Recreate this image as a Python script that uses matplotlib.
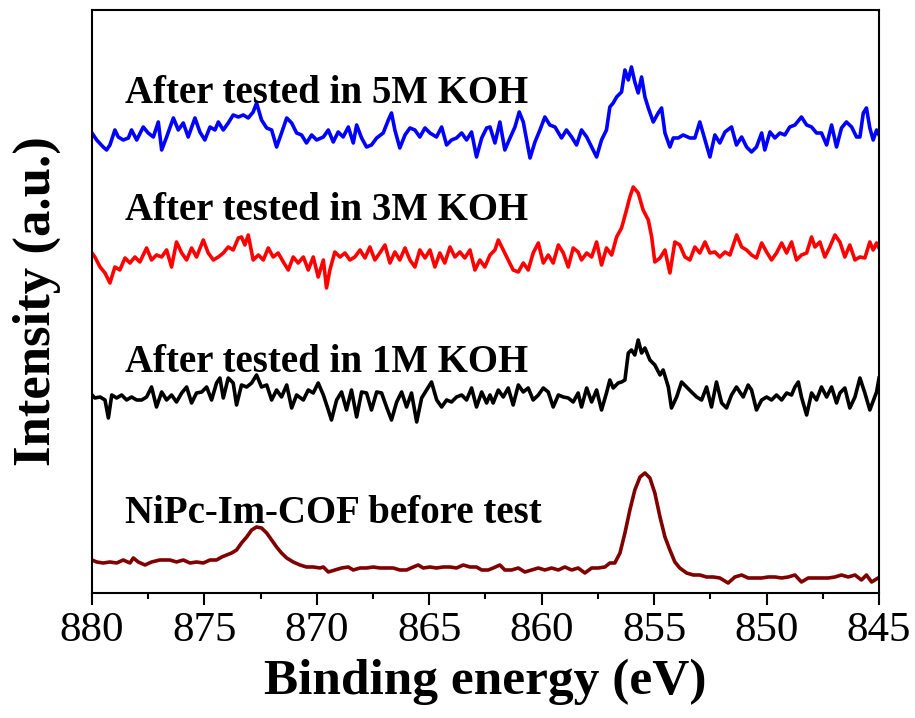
import matplotlib
matplotlib.use("Agg")
import matplotlib.pyplot as plt
from matplotlib.ticker import MultipleLocator

# Ni 2p spectra, intensities in arbitrary units (already vertically offset)
e_5m = [880.0, 879.79, 879.5, 879.35, 879.2, 878.98, 878.83, 878.61, 878.38, 878.24, 878.01, 877.72, 877.5, 877.27,
        877.05, 876.9, 876.68, 876.38, 876.16, 875.94, 875.72, 875.42, 875.2, 874.98, 874.75, 874.53, 874.38, 874.16,
        873.94, 873.72, 873.49, 873.27, 873.05, 872.83, 872.68, 872.46, 872.23, 872.01, 871.79, 871.57, 871.34, 871.12,
        870.9, 870.68, 870.46, 870.23, 870.01, 869.71, 869.49, 869.27, 869.05, 868.83, 868.6, 868.38, 868.23, 868.01,
        867.79, 867.57, 867.34, 867.05, 866.82, 866.68, 866.53, 866.31, 866.08, 865.86, 865.64, 865.42, 865.19, 864.97,
        864.68, 864.45, 864.23, 864.01, 863.79, 863.56, 863.34, 863.12, 862.9, 862.67, 862.45,
        862.3, 862.08, 861.86, 861.64, 861.41, 861.19, 861.0, 860.82, 860.52, 860.3, 860.08, 859.86, 859.64, 859.41,
        859.12, 858.9, 858.67, 858.45, 858.23, 858.0, 857.78, 857.56, 857.34, 857.12, 856.97, 856.82, 856.67, 856.45,
        856.3, 856.15, 856.01, 855.86, 855.71, 855.56, 855.41, 855.26, 855.04, 854.82, 854.67, 854.52, 854.3, 854.15,
        853.93, 853.71, 853.41, 853.19, 852.97, 852.74, 852.52, 852.3, 852.08, 851.85, 851.56, 851.34, 851.11, 850.89,
        850.67, 850.45, 850.22, 850.08, 849.85, 849.63, 849.41, 849.19, 848.97, 848.74, 848.45, 848.22, 848.0, 847.78,
        847.56, 847.33, 847.11, 846.89, 846.67, 846.45, 846.22, 846.0, 845.85, 845.7, 845.56, 845.41, 845.26, 845.11, 845.0]
i_5m = [460, 453, 446, 443, 448, 463, 456, 453, 455, 463, 453, 466, 460, 456,
        471, 443, 456, 475, 463, 470, 456, 475, 461, 453, 466, 463, 471, 463,
        470, 478, 476, 478, 475, 481, 490, 473, 465, 463, 446, 460, 475, 470,
        460, 458, 450, 458, 453, 456, 463, 451, 461, 456, 466, 450, 468, 455,
        446, 448, 455, 460, 473, 480, 463, 445, 458, 465, 463, 456, 465, 460,
        456, 466, 448, 453, 455, 460, 453, 461, 436, 455, 465,
        466, 450, 471, 443, 455, 466, 481, 471, 435, 451, 463, 476, 468, 466,
        455, 463, 456, 448, 463, 456, 446, 436, 453, 463, 486, 490, 496, 501,
        523, 513, 526, 511, 500, 516, 496, 485, 471, 480, 485, 460, 446, 455,
        455, 458, 455, 455, 471, 453, 436, 458, 450, 461, 466, 448, 456, 446,
        441, 446, 460, 443, 461, 455, 460, 458, 466, 468, 476, 468, 466, 460,
        460, 448, 468, 446, 465, 471, 466, 456, 456, 480, 485, 465, 453, 463, 458]

e_3m = [880.0, 879.87, 879.64, 879.42, 879.2, 878.98, 878.76, 878.53, 878.31, 878.09, 877.87, 877.57, 877.35, 877.13,
        876.9, 876.68, 876.46, 876.24, 876.01, 875.79, 875.57, 875.35, 875.05, 874.83, 874.6, 874.38, 874.16, 873.94,
        873.72, 873.49, 873.35, 873.2, 873.05, 872.83, 872.6, 872.38, 872.16, 871.94, 871.72, 871.49, 871.27, 871.05,
        870.83, 870.6, 870.38, 870.16, 869.94, 869.71, 869.57, 869.42, 869.2, 868.97, 868.75, 868.53, 868.31, 868.08,
        867.86, 867.64, 867.42, 867.2, 866.97, 866.75, 866.53, 866.31, 866.08, 865.86, 865.64, 865.42, 865.19, 864.97,
        864.75, 864.53, 864.31, 864.08, 863.86, 863.64, 863.42, 863.19, 862.97, 862.75,
        862.53, 862.3, 862.08, 861.93, 861.71, 861.49, 861.27, 861.04, 860.82, 860.6, 860.38, 860.15, 859.93, 859.71,
        859.49, 859.26, 859.04, 858.82, 858.6, 858.38, 858.23, 858.0, 857.78, 857.56, 857.34, 857.12, 856.89, 856.67,
        856.45, 856.23, 856.08, 855.93, 855.71, 855.49, 855.26, 855.11, 854.97, 854.74, 854.52, 854.3, 854.08, 853.86,
        853.63, 853.41, 853.19, 852.97, 852.74, 852.52, 852.3, 852.08, 851.85, 851.63, 851.33, 851.11, 850.89, 850.67,
        850.45, 850.22, 850.0, 849.78, 849.56, 849.33, 849.11, 848.89, 848.67, 848.45, 848.22, 848.0, 847.85, 847.63,
        847.41, 847.19, 846.96, 846.74, 846.52, 846.3, 846.07, 845.85, 845.63, 845.41, 845.26, 845.11, 845.0]
i_3m = [340, 336, 326, 320, 310, 326, 323, 335, 330, 336, 331, 345, 333, 338,
        336, 343, 326, 351, 340, 333, 345, 336, 353, 340, 333, 336, 340, 346,
        343, 355, 356, 348, 358, 333, 338, 333, 345, 336, 340, 331, 323, 336,
        330, 336, 323, 336, 316, 333, 305, 323, 341, 336, 340, 333, 336, 343,
        335, 346, 333, 340, 348, 330, 341, 333, 345, 333, 326, 343, 335, 343,
        326, 340, 330, 346, 336, 341, 335, 343, 323, 333,
        326, 338, 343, 353, 343, 333, 323, 321, 330, 323, 340, 350, 330, 338,
        330, 348, 340, 326, 345, 341, 333, 340, 336, 351, 328, 345, 338, 356,
        365, 383, 396, 406, 400, 383, 373, 356, 331, 335, 343, 320, 351, 348,
        336, 333, 346, 340, 351, 340, 341, 336, 341, 338, 358, 346, 343, 338,
        335, 350, 341, 333, 340, 350, 340, 351, 333, 338, 340, 356, 346, 351,
        336, 346, 358, 351, 336, 348, 333, 336, 335, 351, 343, 350, 345]

e_1m = [880.0, 879.87, 879.64, 879.42, 879.27, 879.12, 878.9, 878.68, 878.46, 878.24, 878.01, 877.79, 877.57, 877.35,
        877.13, 876.9, 876.68, 876.46, 876.24, 876.01, 875.79, 875.57, 875.35, 875.12, 874.9, 874.68, 874.46, 874.31,
        874.16, 873.94, 873.72, 873.57, 873.35, 873.12, 872.9, 872.68, 872.46, 872.23, 872.01, 871.79, 871.57, 871.34,
        871.12, 870.9, 870.6, 870.38, 870.16, 869.94, 869.71, 869.49, 869.35, 869.12, 868.9, 868.68, 868.46, 868.23,
        868.01, 867.79, 867.57, 867.34, 867.12, 866.9, 866.68, 866.45, 866.23, 866.01, 865.79, 865.56, 865.34, 865.12,
        864.9, 864.67, 864.45, 864.23, 864.01, 863.79, 863.56, 863.34, 863.12, 862.9, 862.67,
        862.45, 862.3, 862.16, 861.93, 861.71, 861.49, 861.27, 861.04, 860.82, 860.6, 860.38, 860.15, 859.93, 859.71,
        859.49, 859.26, 859.04, 858.82, 858.6, 858.38, 858.23, 858.0, 857.78, 857.56, 857.34, 857.12, 856.97, 856.82,
        856.6, 856.45, 856.3, 856.15, 856.01, 855.86, 855.71, 855.56, 855.41, 855.19, 854.97, 854.74, 854.6, 854.37,
        854.23, 854.0, 853.78, 853.56, 853.34, 853.11, 852.89, 852.67, 852.45, 852.23, 852.0, 851.78, 851.56, 851.34,
        851.04, 850.82, 850.67, 850.45, 850.22, 850.0, 849.78, 849.56, 849.33, 849.11, 848.89, 848.74, 848.59, 848.45,
        848.22, 848.0, 847.78, 847.56, 847.33, 847.11, 846.89, 846.74, 846.52, 846.3, 846.07, 845.85, 845.63, 845.41,
        845.11, 845.0]
i_1m = [198, 195, 196, 193, 175, 198, 195, 198, 193, 196, 193, 193, 196, 206,
        186, 201, 193, 198, 191, 200, 206, 190, 200, 201, 206, 193, 210, 215,
        195, 215, 210, 188, 208, 206, 210, 218, 206, 208, 193, 203, 196, 208,
        185, 198, 193, 203, 200, 210, 198, 183, 173, 193, 201, 183, 203, 176,
        201, 200, 183, 201, 200, 186, 173, 191, 201, 186, 200, 171, 195, 203,
        211, 193, 186, 193, 191, 196, 198, 193, 205, 186, 201,
        190, 198, 190, 203, 196, 205, 188, 208, 201, 205, 193, 198, 205, 201,
        186, 198, 196, 195, 191, 200, 186, 205, 191, 203, 183, 200, 213, 205,
        210, 211, 213, 240, 243, 238, 253, 240, 245, 233, 228, 218, 223, 206,
        185, 196, 211, 206, 201, 196, 193, 206, 186, 211, 190, 185, 198, 206,
        196, 208, 203, 183, 193, 196, 193, 198, 193, 200, 198, 206, 211, 196,
        178, 200, 193, 206, 196, 206, 190, 200, 205, 185, 196, 215, 200, 183,
        201, 215]

e_fresh = [880.0, 879.79, 879.5, 879.2, 878.9, 878.61, 878.31, 878.16, 877.94, 877.64, 877.35, 876.98, 876.53, 876.24,
           875.94, 875.64, 875.35, 875.05, 874.75, 874.46, 874.23, 874.01, 873.79, 873.57, 873.35, 873.12, 872.9, 872.68,
           872.46, 872.23, 872.01, 871.79, 871.57, 871.34, 871.05, 870.75, 870.46, 870.16, 869.86, 869.71, 869.49, 869.2,
           868.9, 868.6, 868.38, 868.08, 867.79, 867.49, 867.2, 866.9, 866.6, 866.31, 866.01, 865.71, 865.49, 865.27,
           864.97, 864.68, 864.38, 864.08, 863.79, 863.49, 863.19, 862.9, 862.67, 862.38,
           862.16, 861.86, 861.64, 861.34, 861.04, 860.75, 860.45, 860.15, 859.86, 859.56, 859.26, 858.97, 858.67, 858.38,
           858.08, 857.78, 857.49, 857.19, 856.97, 856.75, 856.52, 856.3, 856.08, 855.86, 855.63, 855.41, 855.19, 854.97,
           854.74, 854.52, 854.3, 854.08, 853.86, 853.56, 853.26, 852.97, 852.67, 852.37, 852.08, 851.71, 851.41, 851.11,
           850.82, 850.52, 850.22, 849.93, 849.63, 849.33, 849.04, 848.74, 848.45, 848.15, 847.85, 847.56, 847.26, 846.96,
           846.67, 846.37, 846.07, 845.78, 845.56, 845.33, 845.04]
i_fresh = [33, 31, 30, 31, 30, 33, 30, 35, 31, 28, 31, 33, 33, 31,
           33, 30, 31, 30, 33, 33, 36, 38, 40, 43, 50, 56, 63, 66,
           65, 60, 53, 46, 40, 35, 31, 28, 26, 26, 25, 26, 21, 23,
           25, 26, 23, 25, 25, 26, 25, 25, 25, 23, 23, 26, 28, 25,
           26, 25, 26, 26, 25, 28, 26, 26, 23, 23,
           25, 28, 23, 23, 25, 21, 23, 25, 23, 25, 23, 26, 23, 25,
           20, 25, 25, 26, 30, 30, 40, 60, 83, 103, 116, 120, 115, 100,
           76, 56, 43, 31, 25, 20, 18, 18, 16, 16, 15, 10, 16, 18,
           15, 15, 15, 16, 16, 15, 16, 18, 11, 15, 15, 15, 15, 16,
           18, 16, 18, 13, 18, 11, 15]

labels = ["After tested in 5M KOH", "After tested in 3M KOH",
          "After tested in 1M KOH", "NiPc-Im-COF before test"]
colors = ["#0000ff", "#ff0000", "#000000", "#800000"]
label_y = [490, 373, 221, 70]

plt.rcParams['font.family'] = ['Liberation Serif', 'DejaVu Serif']

fig = plt.figure(figsize=(9.15, 7.18), dpi=100)
ax = fig.add_axes([0.1005, 0.1741, 0.8602, 0.8120])

series = [(e_5m, i_5m), (e_3m, i_3m), (e_1m, i_1m), (e_fresh, i_fresh)]
for (e, inten), c in zip(series, colors):
    ax.plot(e, inten, color=c, lw=2.6, solid_joinstyle='round')

for txt, y in zip(labels, label_y):
    ax.text(878.55, y, txt, fontsize=28, fontweight='bold', va='baseline', ha='left')

ax.set_xlim(880, 845)
ax.set_ylim(0, 583)
ax.xaxis.set_major_locator(MultipleLocator(5))
ax.xaxis.set_minor_locator(MultipleLocator(2.5))
ax.set_yticks([])
ax.tick_params(axis='x', which='major', direction='out', length=8.5, width=1.5, labelsize=31, pad=5)
ax.tick_params(axis='x', which='minor', direction='out', length=4, width=1.5)
for s in ax.spines.values():
    s.set_linewidth(1.5)

ax.set_xlabel('Binding energy (eV)', fontsize=37, fontweight='bold', labelpad=6)
ax.set_ylabel('Intensity (a.u.)', fontsize=38, fontweight='bold', labelpad=22)

fig.savefig('out.png', dpi=100)
